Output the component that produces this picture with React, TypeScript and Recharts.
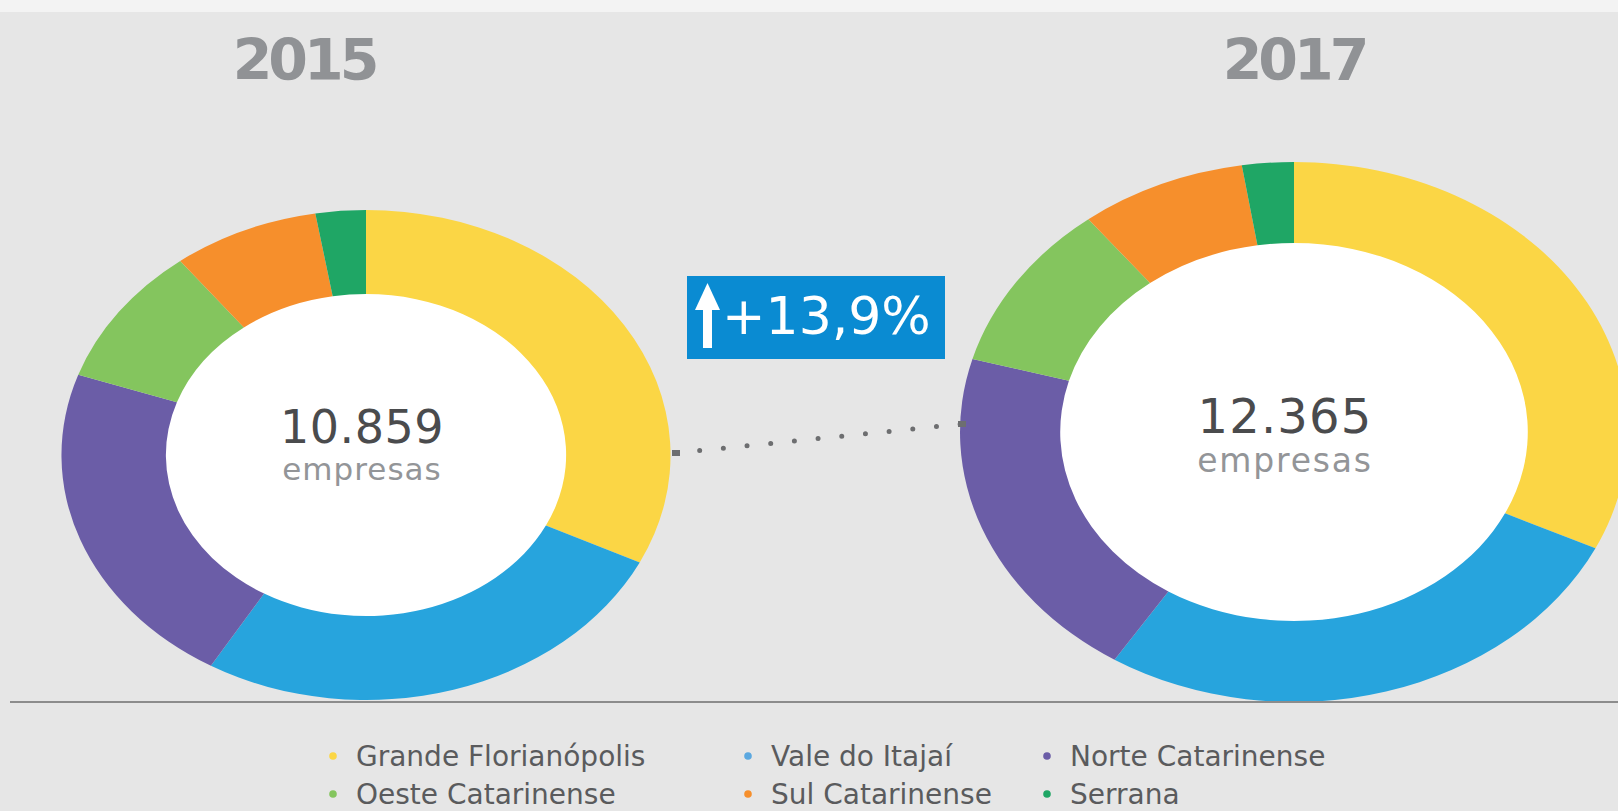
import React from 'react';
import { PieChart, Pie, Cell } from 'recharts';

// regional distribution of companies, 2015 vs 2017
const regions = [
  'Grande Florianópolis',
  'Vale do Itajaí',
  'Norte Catarinense',
  'Oeste Catarinense',
  'Sul Catarinense',
  'Serrana',
];
const regionColors = ['#FBD645', '#27A4DD', '#6B5DA7', '#84C55E', '#F68F2C', '#1FA665'];
const legendDotColors = ['#FBD645', '#5BA8E0', '#6B5DA7', '#84C55E', '#F68F2C', '#1FA665'];

const years = ['2015', '2017'];
const empresas2015 = [3499, 2854, 2368, 1004, 845, 289];
const empresas2017 = [3967, 3332, 2514, 1247, 996, 309];

const FONT = '"DejaVu Sans", Verdana, sans-serif';

const sum = (arr: number[]) => arr.reduce((a, b) => a + b, 0);
const fmtThousands = (n: number) => String(n).replace(/\B(?=(\d{3})+(?!\d))/g, '.');

const toData = (values: number[]) => regions.map((name, i) => ({ name, value: values[i] }));

interface DonutProps {
  data: { name: string; value: number }[];
  cx: number;
  cy: number;
  outer: number;
  inner: number;
  sx: number;
}

const Donut: React.FC<DonutProps> = ({ data, cx, cy, outer, inner, sx }) => {
  const size = outer * 2 + 4;
  return (
    <div
      style={{
        position: 'absolute',
        left: cx - size / 2,
        top: cy - size / 2,
        width: size,
        height: size,
        transform: `scaleX(${sx})`,
        transformOrigin: '50% 50%',
      }}
    >
      <div
        style={{
          position: 'absolute',
          left: size / 2 - inner - 1,
          top: size / 2 - inner - 1,
          width: inner * 2 + 2,
          height: inner * 2 + 2,
          borderRadius: '50%',
          background: '#ffffff',
        }}
      />
      <div style={{ position: 'absolute', left: 0, top: 0 }}>
        <PieChart width={size} height={size} margin={{ top: 0, right: 0, bottom: 0, left: 0 }}>
          <Pie
            data={data}
            dataKey="value"
            nameKey="name"
            cx={size / 2}
            cy={size / 2}
            innerRadius={inner}
            outerRadius={outer}
            startAngle={90}
            endAngle={-270}
            stroke="none"
            isAnimationActive={false}
          >
            {data.map((d, i) => (
              <Cell key={d.name} fill={regionColors[i]} />
            ))}
          </Pie>
        </PieChart>
      </div>
    </div>
  );
};

const App: React.FC = () => {
  const total2015 = sum(empresas2015);
  const total2017 = sum(empresas2017);
  const growth = ((total2017 / total2015 - 1) * 100).toFixed(1).replace('.', ',');

  const legendDotX = [333, 748, 1047];
  const legendRowY = [756, 794];

  return (
    <div
      style={{
        position: 'absolute',
        left: 0,
        top: 0,
        width: 1618,
        height: 811,
        overflow: 'hidden',
        background: '#E6E6E6',
        fontFamily: FONT,
      }}
    >
      <div style={{ position: 'absolute', left: 0, top: 0, width: 1618, height: 12, background: '#F3F3F3' }} />

      <Donut data={toData(empresas2015)} cx={366} cy={455} outer={245} inner={161} sx={1.243} />
      <Donut data={toData(empresas2017)} cx={1294} cy={432} outer={270} inner={189} sx={1.237} />

      <svg width={1618} height={811} style={{ position: 'absolute', left: 0, top: 0, pointerEvents: 'none' }}>
        {/* year titles */}
        <text x={304} y={80} textAnchor="middle" fontSize={57} fontWeight={700} letterSpacing={-4} fill="#909295" fontFamily={FONT}>
          {years[0]}
        </text>
        <text x={1294} y={80} textAnchor="middle" fontSize={57} fontWeight={700} letterSpacing={-4} fill="#909295" fontFamily={FONT}>
          {years[1]}
        </text>

        {/* centre totals */}
        <text x={362} y={443} textAnchor="middle" fontSize={46} letterSpacing={0.5} fill="#4A4B4D" fontFamily={FONT}>
          {fmtThousands(total2015)}
        </text>
        <text x={362} y={480} textAnchor="middle" fontSize={31} letterSpacing={1} fill="#939598" fontFamily={FONT}>
          empresas
        </text>
        <text x={1285} y={433} textAnchor="middle" fontSize={48} letterSpacing={1.2} fill="#4A4B4D" fontFamily={FONT}>
          {fmtThousands(total2017)}
        </text>
        <text x={1285} y={472} textAnchor="middle" fontSize={33} letterSpacing={1.8} fill="#939598" fontFamily={FONT}>
          empresas
        </text>

        {/* dotted connector */}
        <line x1={676} y1={453} x2={962} y2={424} stroke="#6D6E70" strokeWidth={5} strokeDasharray="0 23.8" strokeLinecap="round" />
        <rect x={672} y={450} width={8} height={6} fill="#6D6E70" />
        <rect x={958} y={421} width={8} height={6} fill="#6D6E70" />

        {/* growth badge */}
        <rect x={687} y={276} width={258} height={83} fill="#0A8BD2" />
        <polygon points="695,310 707.5,283 720,310" fill="#ffffff" />
        <rect x={703} y={305} width={9} height={43} fill="#ffffff" />
        <text x={722} y={334} fontSize={52} fill="#ffffff" fontFamily={FONT}>
          {`+${growth}%`}
        </text>

        {/* baseline */}
        <rect x={10} y={701} width={1608} height={2} fill="#8C8C8C" />

        {/* legend */}
        {regions.map((name, i) => {
          const col = i % 3;
          const row = Math.floor(i / 3);
          const x = legendDotX[col];
          const y = legendRowY[row];
          return (
            <g key={name}>
              <circle cx={x} cy={y} r={3.8} fill={legendDotColors[i]} />
              <text x={x + 23} y={y + 10} fontSize={28} fill="#5A5B5D" fontFamily={FONT}>
                {name}
              </text>
            </g>
          );
        })}
      </svg>
    </div>
  );
};

export default App;
